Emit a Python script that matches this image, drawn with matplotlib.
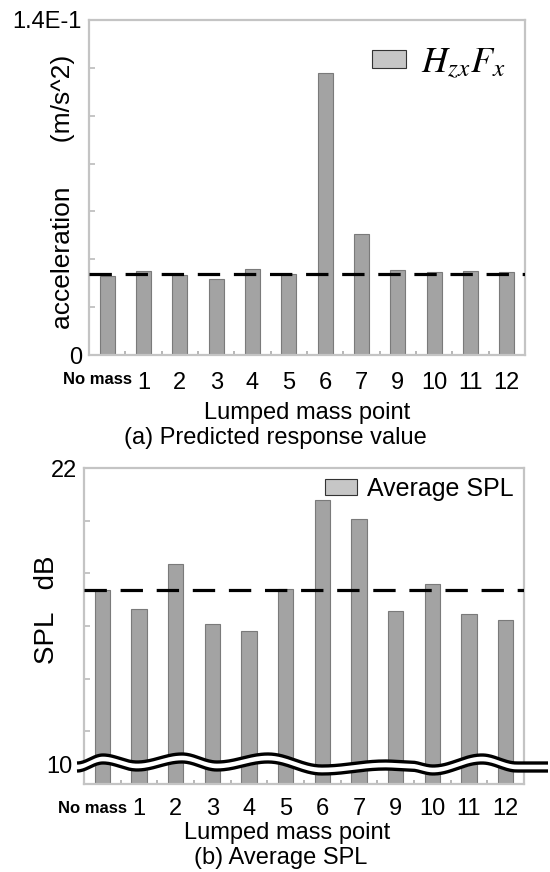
import numpy as np
import matplotlib
matplotlib.use("Agg")
import matplotlib.pyplot as plt
from matplotlib.ticker import MultipleLocator, FixedLocator
from matplotlib.transforms import blended_transform_factory, ScaledTranslation

plt.rcParams['font.family'] = ['Liberation Sans', 'DejaVu Sans']
plt.rcParams['mathtext.fontset'] = 'stix'

# ---- data -------------------------------------------------------------
points = ["No mass", "1", "2", "3", "4", "5", "6", "7", "9", "10", "11", "12"]
accel = [0.0330, 0.0351, 0.0334, 0.0316, 0.0359, 0.0338, 0.1180, 0.0506,
         0.0355, 0.0345, 0.0351, 0.0348]
accel_ref = 0.0337
spl = [17.37, 16.66, 18.34, 16.08, 15.82, 17.39, 20.80, 20.07,
       16.57, 17.61, 16.45, 16.22]
spl_ref = 17.37

W, H = 550, 872
fig = plt.figure(figsize=(W / 100, H / 100), dpi=100)


def box(l, t, r, b):
    return [l / W, 1 - b / H, (r - l) / W, (b - t) / H]


FRAME = "#c4c4c4"
BAR = "#a3a3a3"
EDGE = "#7a7a7a"


def style_axes(ax):
    for s in ax.spines.values():
        s.set_color(FRAME)
        s.set_linewidth(1.6)
    ax.set_xlim(-0.5, len(points) - 0.5)
    ax.set_xticks(range(len(points)))
    ax.set_xticklabels([''] + points[1:], fontsize=17)
    ax.tick_params(axis='x', which='major', length=0, pad=12)
    ax.xaxis.set_minor_locator(FixedLocator(np.arange(0.5, len(points) - 1, 1.0)))
    ax.tick_params(axis='x', which='minor', direction='in', length=3,
                   width=1.2, color="#aaaaaa")
    ax.tick_params(axis='y', which='major', direction='in', length=0,
                   labelsize=17, pad=5)
    ax.tick_params(axis='y', which='minor', direction='in', length=4,
                   width=1.2, color="#bbbbbb")
    # first category label: smaller bold text, nudged left of the "1"
    tr = blended_transform_factory(ax.transData, ax.transAxes) + \
        ScaledTranslation(-10 / 100, -17 / 100, fig.dpi_scale_trans)
    ax.text(0, 0, points[0], transform=tr, ha='center', va='top',
            fontsize=12, fontweight='bold')


# ---- (a) predicted response ------------------------------------------
ax1 = fig.add_axes(box(89, 20, 525, 355))
x = np.arange(len(points))
ax1.bar(x, accel, width=0.41, color=BAR, edgecolor=EDGE, linewidth=0.8,
        label=r'$H_{zx}F_{x}$', zorder=2)
ax1.axhline(accel_ref, color='black', lw=2.3, ls=(0, (7.0, 4.3)), zorder=3)
ax1.set_ylim(0, 0.14)
ax1.set_yticks([0, 0.14])
ax1.set_yticklabels(['0', '1.4E-1'])
ax1.yaxis.set_minor_locator(MultipleLocator(0.02))
style_axes(ax1)
ax1.set_ylabel('acceleration      (m/s^2)', fontsize=19)
ax1.yaxis.set_label_coords((75 - 89) / 436, 0.487)
leg1 = ax1.legend(loc='upper right', bbox_to_anchor=((505 - 89) / 436, (355 - 45) / 335),
                  frameon=False, fontsize=26, borderpad=0, borderaxespad=0,
                  handlelength=0.95, handleheight=0.4, handletextpad=0.4)
for h in leg1.legend_handles:
    h.set_facecolor('#c6c6c6')
    h.set_edgecolor('#333333')

fig.text(307 / W, 1 - 413 / H, 'Lumped mass point', fontsize=17,
         ha='center', va='center')
fig.text(275 / W, 1 - 438 / H, '(a) Predicted response value', fontsize=17,
         ha='center', va='center')

# ---- (b) average SPL ---------------------------------------------------
ax2 = fig.add_axes(box(84, 468, 524, 784))
ax2.bar(x, spl, width=0.41, color=BAR, edgecolor=EDGE, linewidth=0.8,
        label='Average SPL', zorder=2)
ax2.axhline(spl_ref, color='black', lw=2.3, ls=(0, (7.0, 4.3)), zorder=3)
ax2.set_ylim(10, 22)
ax2.set_yticks([22])
ax2.set_yticklabels(['22'])
ax2.yaxis.set_minor_locator(FixedLocator([12, 14, 16, 18, 20]))
style_axes(ax2)
ax2.tick_params(axis='x', which='major', pad=10)
ax2.annotate('10', xy=(0, 10), xycoords=('axes fraction', 'data'),
             xytext=(-8, 12), textcoords='offset points',
             ha='right', va='center', fontsize=17)
ax2.set_ylabel('SPL   dB', fontsize=20)
ax2.yaxis.set_label_coords((60 - 84) / 440, 0.55)
leg2 = ax2.legend(loc='upper right', bbox_to_anchor=((514 - 84) / 440, (784 - 477) / 316),
                  frameon=False, fontsize=18, borderpad=0, borderaxespad=0,
                  handlelength=1.3, handleheight=0.62, handletextpad=0.4)
for h in leg2.legend_handles:
    h.set_facecolor('#c6c6c6')
    h.set_edgecolor('#333333')

fig.text(287 / W, 1 - 833 / H, 'Lumped mass point', fontsize=17,
         ha='center', va='center')
fig.text(281 / W, 1 - 858 / H, '(b) Average SPL', fontsize=17,
         ha='center', va='center')

# ---- axis-break wave across the lower panel ------------------------------
ov = fig.add_axes([0, 0, 1, 1], zorder=10)
ov.set_xlim(0, W)
ov.set_ylim(H, 0)
ov.axis('off')
wx = [77, 103, 137, 182, 217, 268, 322, 385, 410, 433, 482, 517, 548]
wy = [763, 755, 762, 754, 762, 754, 766, 761, 762, 766, 755, 763, 763]
xs, ys = [], []
for i in range(len(wx) - 1):
    t = np.linspace(0, 1, 30, endpoint=False)
    s = (1 - np.cos(np.pi * t)) / 2
    xs.append(wx[i] + (wx[i + 1] - wx[i]) * t)
    ys.append(wy[i] + (wy[i + 1] - wy[i]) * s)
xs = np.concatenate(xs + [[wx[-1]]])
ys = np.concatenate(ys + [[wy[-1]]])
gap = 8.0
ov.fill_between(xs, ys, ys + gap, color='white', zorder=1)
ov.plot(xs, ys, color='black', lw=2.4, zorder=2, solid_capstyle='butt')
ov.plot(xs, ys + gap, color='black', lw=2.4, zorder=2, solid_capstyle='butt')

fig.savefig('out.png', dpi=100)
